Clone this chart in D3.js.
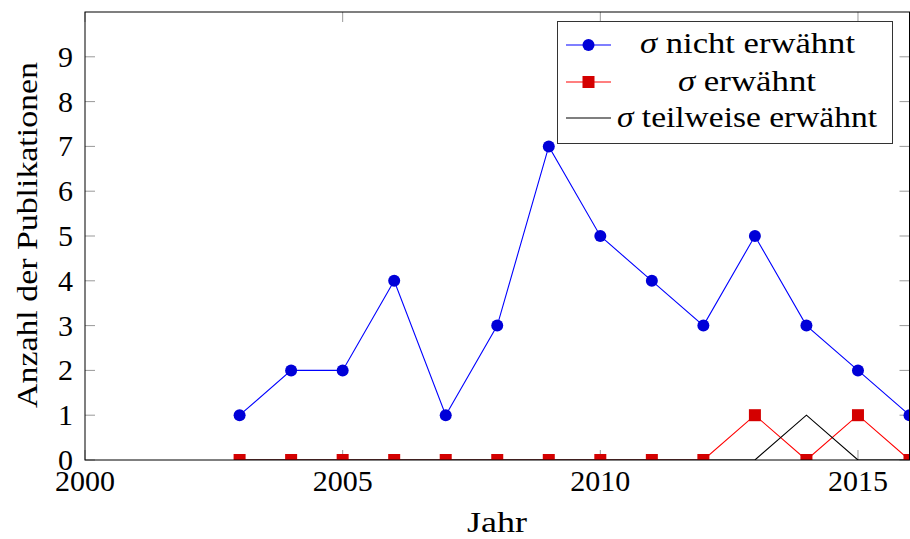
<!DOCTYPE html>
<html>
<head>
<meta charset="utf-8">
<script src="https://cdn.jsdelivr.net/npm/d3@7"></script>
<style>
  html, body { margin: 0; padding: 0; background: #fff; }
  svg { display: block; }
  text, tspan { font-family: "Liberation Serif", "DejaVu Serif", serif; fill: #000; }
</style>
</head>
<body>
<svg id="chart" width="910" height="539"></svg>
<script>
// Publication counts per year
const years = [2003, 2004, 2005, 2006, 2007, 2008, 2009, 2010, 2011, 2012, 2013, 2014, 2015, 2016];
const nichtErwaehnt = [1, 2, 2, 4, 1, 3, 7, 5, 4, 3, 5, 3, 2, 1];
const erwaehnt =      [0, 0, 0, 0, 0, 0, 0, 0, 0, 0, 1, 0, 1, 0];
const teilweise =     [0, 0, 0, 0, 0, 0, 0, 0, 0, 0, 0, 1, 0, 0];
const xTicks = [2000, 2005, 2010, 2015];
const yTicks = [0, 1, 2, 3, 4, 5, 6, 7, 8, 9];
const seriesNames = ["nicht erwähnt", "erwähnt", "teilweise erwähnt"];

const svg = d3.select("#chart");
const m = { left: 85, right: 909.5, top: 12, bottom: 460 };

const x = d3.scaleLinear().domain([2000, 2016]).range([m.left, m.right]);
const y = d3.scaleLinear().domain([0, 10]).range([m.bottom, m.top]);

const tickLen = 10;
const fontSize = 30;

// clip region for plot contents
svg.append("defs").append("clipPath").attr("id", "plotclip")
  .append("rect").attr("x", m.left).attr("y", m.top)
  .attr("width", m.right - m.left).attr("height", m.bottom - m.top);

// inward tick marks on all four sides
const ticks = svg.append("g").attr("stroke", "#999").attr("stroke-width", 1);
yTicks.forEach(v => {
  ticks.append("line").attr("x1", m.left).attr("x2", m.left + tickLen).attr("y1", y(v)).attr("y2", y(v));
  ticks.append("line").attr("x1", m.right).attr("x2", m.right - tickLen).attr("y1", y(v)).attr("y2", y(v));
});
xTicks.forEach(v => {
  ticks.append("line").attr("x1", x(v)).attr("x2", x(v)).attr("y1", m.bottom).attr("y2", m.bottom - tickLen);
  ticks.append("line").attr("x1", x(v)).attr("x2", x(v)).attr("y1", m.top).attr("y2", m.top + tickLen);
});

// tick labels
svg.append("g").selectAll("text").data(yTicks).join("text")
  .attr("x", m.left - 12).attr("y", d => y(d))
  .attr("dy", "0.33em").attr("text-anchor", "end")
  .attr("font-size", fontSize).text(d => d);

svg.append("g").selectAll("text").data(xTicks).join("text")
  .attr("x", d => x(d)).attr("y", 491)
  .attr("text-anchor", "middle")
  .attr("font-size", fontSize).text(d => d);

// axis titles
svg.append("text").attr("x", 497).attr("y", 532)
  .attr("text-anchor", "middle").attr("font-size", fontSize)
  .attr("textLength", 60).attr("lengthAdjust", "spacingAndGlyphs").text("Jahr");
svg.append("text")
  .attr("transform", "translate(37, 235) rotate(-90)")
  .attr("text-anchor", "middle").attr("font-size", fontSize)
  .attr("textLength", 346).attr("lengthAdjust", "spacingAndGlyphs")
  .text("Anzahl der Publikationen");

// series
const series = [
  { values: nichtErwaehnt, line: "#0000ff", mark: "circle", fill: "#0000d8" },
  { values: erwaehnt, line: "#ff0000", mark: "square", fill: "#d40000" },
  { values: teilweise, line: "#000000", mark: null }
];

const plot = svg.append("g").attr("clip-path", "url(#plotclip)");
const lineGen = d3.line().x(d => x(d[0])).y(d => y(d[1]));

series.forEach(s => {
  const pts = years.map((yr, i) => [yr, s.values[i]]);
  plot.append("path").datum(pts)
    .attr("d", lineGen).attr("fill", "none")
    .attr("stroke", s.line).attr("stroke-width", 1.1);
});

series.forEach(s => {
  const pts = years.map((yr, i) => [yr, s.values[i]]);
  if (s.mark === "circle") {
    plot.append("g").selectAll("circle").data(pts).join("circle")
      .attr("cx", d => x(d[0])).attr("cy", d => y(d[1])).attr("r", 6)
      .attr("fill", s.fill);
  } else if (s.mark === "square") {
    plot.append("g").selectAll("rect").data(pts).join("rect")
      .attr("x", d => x(d[0]) - 6).attr("y", d => y(d[1]) - 6)
      .attr("width", 12).attr("height", 12)
      .attr("fill", s.fill);
  }
});

// plot frame
svg.append("rect").attr("x", m.left).attr("y", m.top)
  .attr("width", m.right - m.left).attr("height", m.bottom - m.top)
  .attr("fill", "none").attr("stroke", "#000").attr("stroke-width", 1);

// legend
const lg = svg.append("g");
lg.append("rect").attr("x", 557.5).attr("y", 21.5).attr("width", 335).attr("height", 122)
  .attr("fill", "#fff").attr("stroke", "#333").attr("stroke-width", 1);
const rowY = [45, 82, 118];
const rowBase = [53, 91, 127];
const rowText = [[640, 855], [678, 816], [617, 877]];
series.forEach((s, i) => {
  const cy = rowY[i];
  lg.append("line").attr("x1", 566).attr("x2", 611).attr("y1", cy).attr("y2", cy)
    .attr("stroke", s.line).attr("stroke-width", 1.1);
  if (s.mark === "circle") {
    lg.append("circle").attr("cx", 588.5).attr("cy", cy).attr("r", 6).attr("fill", s.fill);
  } else if (s.mark === "square") {
    lg.append("rect").attr("x", 582.5).attr("y", cy - 6).attr("width", 12).attr("height", 12).attr("fill", s.fill);
  }
  const [tx0, tx1] = rowText[i];
  const t = lg.append("text").attr("x", tx0).attr("y", rowBase[i])
    .attr("font-size", fontSize)
    .attr("textLength", tx1 - tx0).attr("lengthAdjust", "spacingAndGlyphs");
  t.append("tspan").attr("font-style", "italic").text("σ");
  t.append("tspan").text(" " + seriesNames[i]);
});
</script>
</body>
</html>
